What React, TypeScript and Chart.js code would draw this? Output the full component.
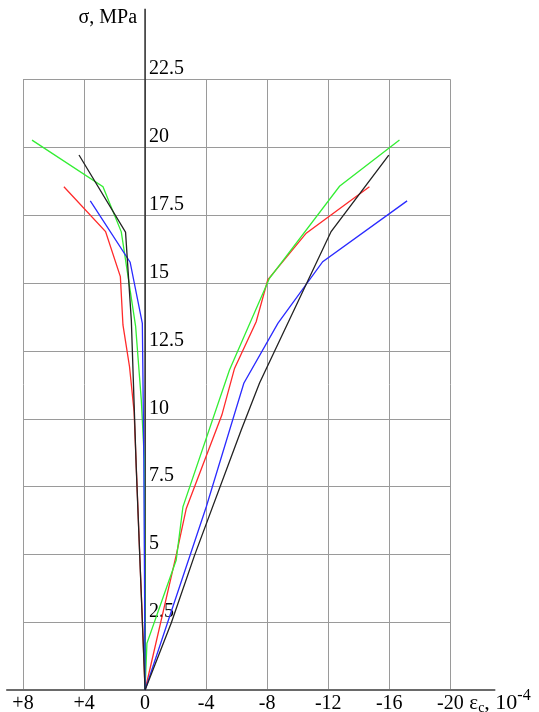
import React, { useEffect, useRef } from "react";
import { Chart, registerables } from "chart.js";

Chart.register(...registerables);

// ---- axis ticks ----
const xTickValues = [8, 4, 0, -4, -8, -12, -16, -20];
const xTickLabels = ["+8", "+4", "0", "-4", "-8", "-12", "-16", "-20"];
const yTickValues = [2.5, 5, 7.5, 10, 12.5, 15, 17.5, 20, 22.5];
const yTickLabels = ["2.5", "5", "7.5", "10", "12.5", "15", "17.5", "20", "22.5"];

// ---- series (strain ×10^-4, stress MPa) ----
// red
const redLeftStrain = [0, 0.72, 1.02, 1.45, 1.62, 2.59, 5.32];
const redLeftStress = [0, 10.25, 11.91, 13.45, 15.23, 16.89, 18.54];
const redRightStrain = [0, -2.04, -2.7, -5.03, -5.86, -7.28, -8.04, -10.56, -14.7];
const redRightStress = [0, 4.97, 6.69, 10.13, 11.85, 13.57, 15.11, 16.83, 18.54];
// green
const greenLeftStrain = [0, 0.05, 0.25, 0.62, 1.56, 2.76, 7.41];
const greenLeftStress = [0, 8.5, 10.7, 13.4, 16.88, 18.54, 20.26];
const greenRightStrain = [0, -0.12, -2.04, -2.48, -5.53, -8.15, -12.74, -16.67];
const greenRightStress = [0, 1.72, 4.79, 6.75, 11.79, 15.17, 18.56, 20.26];
// blue
const blueLeftStrain = [0, 0.08, 0.18, 0.98, 3.59];
const blueLeftStress = [0, 8.47, 13.51, 15.76, 18.02];
const blueRightStrain = [0, -1.82, -4.01, -6.47, -8.7, -11.64, -17.17];
const blueRightStress = [0, 3.07, 6.75, 11.3, 13.51, 15.78, 18.02];
// black
const blackLeftStrain = [0, 0.58, 0.9, 1.28, 4.33];
const blackLeftStress = [0, 8.2, 13.6, 16.87, 19.71];
const blackRightStrain = [0, -1.72, -3.24, -6.3, -7.5, -12.19, -15.97];
const blackRightStress = [0, 2.48, 4.96, 9.58, 11.31, 16.89, 19.71];

// axis extents (data units)
const X_GRID_MAX = 8;
const X_GRID_MIN = -20;
const Y_GRID_MAX = 22.5;
const X_AXIS_FROM = 9.1;
const X_AXIS_TO = -22.95;
const Y_AXIS_TOP = 25.1;

const FONT = '"Liberation Serif", "Times New Roman", serif';

const zip = (xs: number[], ys: number[]) => xs.map((v, i) => ({ x: v, y: ys[i] }));

const axesPlugin = {
  id: "customAxes",
  beforeDatasetsDraw(chart: any) {
    const { ctx, scales } = chart;
    const xs = scales.x;
    const ys = scales.y;
    const px = (v: number) => xs.getPixelForValue(v);
    const py = (v: number) => ys.getPixelForValue(v);
    ctx.save();
    // grid
    ctx.strokeStyle = "#9a9a9a";
    ctx.lineWidth = 1;
    for (const v of xTickValues) {
      const p = Math.round(px(v)) + 0.5;
      ctx.beginPath();
      ctx.moveTo(p, py(Y_GRID_MAX));
      ctx.lineTo(p, py(0));
      ctx.stroke();
    }
    for (const v of yTickValues) {
      const p = Math.round(py(v)) + 0.5;
      ctx.beginPath();
      ctx.moveTo(px(X_GRID_MAX), p);
      ctx.lineTo(px(X_GRID_MIN), p);
      ctx.stroke();
    }
    // x axis
    ctx.strokeStyle = "#6a6a6a";
    ctx.lineWidth = 2;
    ctx.beginPath();
    ctx.moveTo(px(X_AXIS_FROM), py(0));
    ctx.lineTo(px(X_AXIS_TO), py(0));
    ctx.stroke();
    // y axis
    ctx.strokeStyle = "#333";
    ctx.lineWidth = 1.6;
    ctx.beginPath();
    ctx.moveTo(px(0), py(Y_AXIS_TOP));
    ctx.lineTo(px(0), py(0));
    ctx.stroke();

    // labels
    ctx.fillStyle = "#000";
    ctx.font = `20px ${FONT}`;
    ctx.textBaseline = "alphabetic";
    ctx.textAlign = "center";
    xTickLabels.forEach((t, i) => {
      ctx.fillText(t, px(xTickValues[i]), py(0) + 19);
    });
    ctx.textAlign = "left";
    yTickLabels.forEach((t, i) => {
      ctx.fillText(t, px(0) + 4, py(yTickValues[i]) - 5);
    });
    // y title
    ctx.textAlign = "right";
    ctx.fillText("σ, MPa", px(0) - 8, py(Y_AXIS_TOP) + 14);
    // x title: ε_c, 10^-4
    ctx.textAlign = "left";
    let cx = px(X_AXIS_TO) - 26;
    const base = py(0) + 19;
    ctx.font = `21px ${FONT}`;
    ctx.fillText("ε", cx, base);
    cx += ctx.measureText("ε").width;
    ctx.font = `14px ${FONT}`;
    ctx.fillText("c", cx, base + 3);
    cx += ctx.measureText("c").width;
    ctx.font = `22px ${FONT}`;
    ctx.fillText(", 10", cx, base);
    cx += ctx.measureText(", 10").width;
    ctx.font = `16px ${FONT}`;
    ctx.fillText("-4", cx, base - 9);
    ctx.restore();
  },
};

const mk = (xs: number[], ys: number[], color: string) => ({
  data: zip(xs, ys),
  borderColor: color,
  backgroundColor: color,
  borderWidth: 1.3,
  pointRadius: 0,
  tension: 0,
  fill: false,
  clip: false as any,
});

export default function App() {
  const ref = useRef<HTMLCanvasElement | null>(null);
  useEffect(() => {
    if (!ref.current) return;
    const chart = new Chart(ref.current, {
      type: "line",
      data: {
        datasets: [
          mk(blackLeftStrain, blackLeftStress, "#222222"),
          mk(blackRightStrain, blackRightStress, "#222222"),
          mk(blueLeftStrain, blueLeftStress, "#2a2aff"),
          mk(blueRightStrain, blueRightStress, "#2a2aff"),
          mk(greenLeftStrain, greenLeftStress, "#33ee33"),
          mk(greenRightStrain, greenRightStress, "#33ee33"),
          mk(redLeftStrain, redLeftStress, "#ff2a2a"),
          mk(redRightStrain, redRightStress, "#ff2a2a"),
        ] as any,
      },
      options: {
        animation: false,
        responsive: true,
        maintainAspectRatio: false,
        layout: { padding: { left: 23, right: 88.7, top: 79.3, bottom: 22 } },
        plugins: { legend: { display: false }, tooltip: { enabled: false } },
        scales: {
          x: { type: "linear", min: X_GRID_MIN, max: X_GRID_MAX, reverse: true, display: false },
          y: { type: "linear", min: 0, max: Y_GRID_MAX, display: false },
        },
      },
      plugins: [axesPlugin],
    });
    return () => chart.destroy();
  }, []);
  return (
    <div style={{ position: "fixed", left: 0, top: 0, width: 539, height: 712, background: "#fff" }}>
      <canvas ref={ref} />
    </div>
  );
}
